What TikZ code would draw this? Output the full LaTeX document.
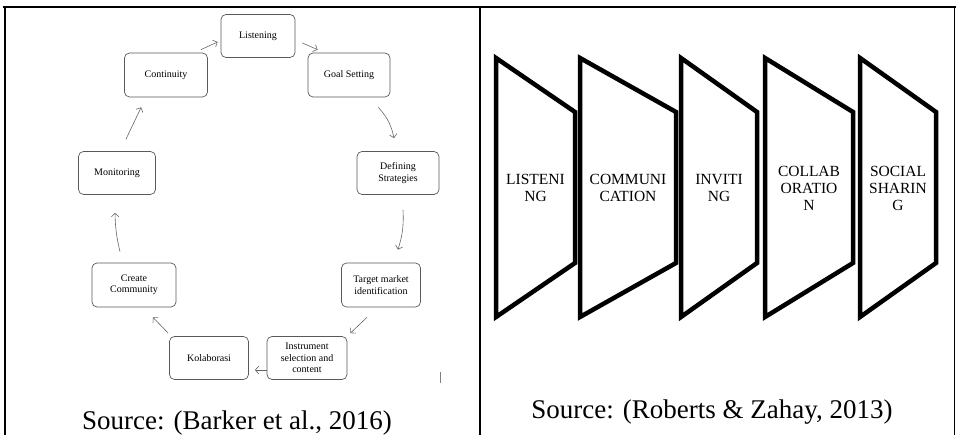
\documentclass[tikz,border=0pt]{standalone}
\usepackage{fontspec}
\setmainfont{Liberation Serif}
\usetikzlibrary{arrows.meta}

\tikzset{
  box/.style={draw=gray!70!black, line width=0.7pt, rounded corners=5pt, minimum width=80pt, minimum height=43pt, inner sep=2pt, align=center, font=\fontsize{10}{11.5}\selectfont},
  flow/.style={-{Straight Barb[length=3.5pt,width=7.5pt]}, draw=gray!80!black, line width=0.6pt},
  door/.style={line width=4.5pt, line join=miter},
  doortext/.style={align=center, inner sep=0pt, font=\fontsize{15.5}{17}\selectfont},
  source/.style={anchor=base, inner sep=0pt, font=\fontsize{27}{30}\selectfont}
}

\begin{document}
\begin{tikzpicture}[x=1pt,y=1pt]
		\useasboundingbox (0,0) rectangle (956,435);
		% table rules
		\draw[line width=1.5pt] (3,428) -- (956,428);
		\draw[line width=2pt] (5,429) -- (5,0);
		\draw[line width=2pt] (480,428) -- (480,0);
		\draw[line width=1pt] (954,428) -- (954,0);

		% left cell
		\node[box, minimum width=74pt] (list) at (258,399) {Listening};
		\node[box, minimum width=83pt, minimum height=44pt] (cont) at (166,360) {Continuity};
		\node[box, minimum width=82pt, minimum height=44pt] (goal) at (349,360) {Goal Setting};
		\node[box, minimum width=77pt] (moni) at (117,262) {Monitoring};
		\node[box, minimum width=82pt] (defi) at (398,262) {Defining\\Strategies};
		\node[box, minimum width=84pt, minimum height=44pt] (crea) at (134,150) {Create\\Community};
		\node[box, minimum width=79pt, minimum height=44pt] (targ) at (381,150) {Target market\\identification};
		\node[box, minimum width=79pt] (kola) at (209,77) {Kolaborasi};
		\node[box] (inst) at (307,77) {Instrument\\selection and\\content};

		\draw[flow] ([xshift=-7pt,yshift=3pt]cont.north east) -- ([xshift=-3pt,yshift=-6pt]list.west);
		\draw[flow] ([xshift=7pt,yshift=-7pt]list.east) -- ([xshift=10pt,yshift=3pt]goal.north west);
		\draw[flow] ([xshift=-12pt,yshift=-10pt]goal.south east) to[bend left=15] ([xshift=-4pt,yshift=13pt]defi.north);
		\draw[flow] ([xshift=5pt,yshift=-15pt]defi.south) to[bend left=10] ([xshift=17pt,yshift=13pt]targ.north);
		\draw[flow] ([xshift=-14pt,yshift=-10pt]targ.south) -- ([xshift=3pt,yshift=3pt]inst.north east);
		\draw[flow] ([yshift=-12pt]inst.west) -- ([xshift=6pt,yshift=-12pt]kola.east);
		\draw[flow] ([xshift=-1pt,yshift=3pt]kola.north west) -- ([xshift=19pt,yshift=-10pt]crea.south);
		\draw[flow] ([xshift=-14pt,yshift=11pt]crea.north) to[bend left=6] ([xshift=-2pt,yshift=-18pt]moni.south);
		\draw[flow] ([xshift=9pt,yshift=12pt]moni.north) -- ([xshift=17pt,yshift=-10pt]cont.south west);
		\draw[gray, line width=0.8pt] (440,52) -- (440,63);

		\node[source] (srcA) at (237,5) {Source: (Barker et al., 2016)};

		% right cell
		\foreach \l/\r/\txt [count=\k] in {496/575/{LISTENI\\NG}, 580/676/{COMMUNI\\CATION}, 681/757/{INVITI\\NG}, 765/853/{COLLAB\\ORATIO\\N}, 860/936/{SOCIAL\\SHARIN\\G}} {
		  \draw[door] (\l,377) -- (\r,323) -- (\r,172) -- (\l,118) -- cycle;
		  \node[doortext] (door\k) at ({(\l+\r)/2},247) {\txt};
		}

		\node[source] (srcB) at (712,16) {Source: (Roberts \& Zahay, 2013)};
	\end{tikzpicture}
\end{document}
